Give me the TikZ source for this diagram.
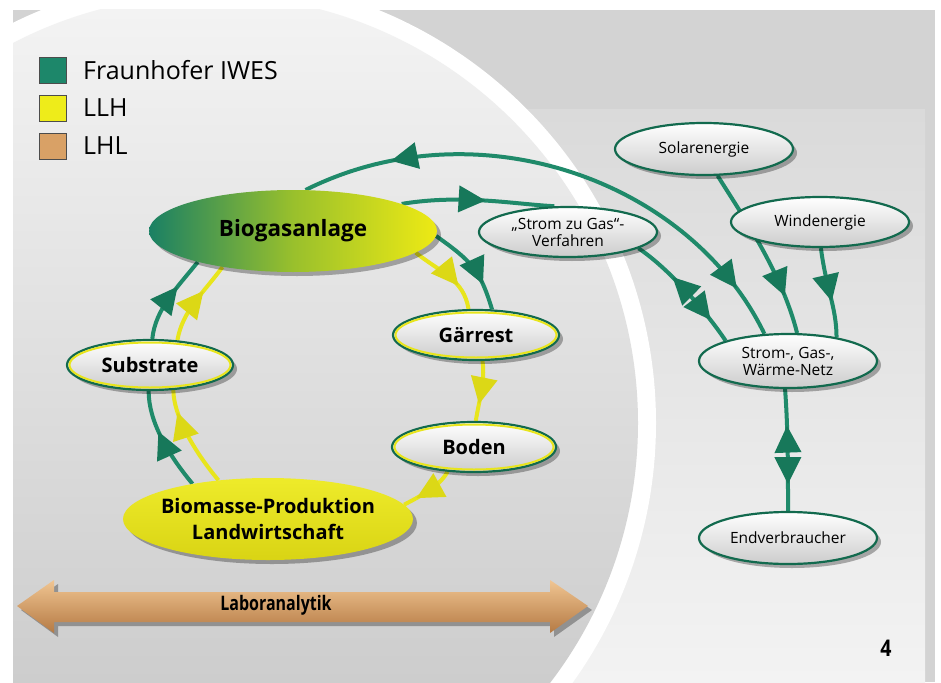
\documentclass[tikz,border=0pt]{standalone}
\usepackage{fontspec}
\setmainfont{Open Sans}
\usetikzlibrary{arrows.meta,decorations.markings,shadows,shapes.geometric}
\definecolor{gline}{HTML}{1F8A6A}
\definecolor{gdark}{HTML}{126A4E}
\definecolor{gtip}{HTML}{17785A}
\definecolor{yline}{HTML}{E8E51C}
\definecolor{ytip}{HTML}{DCD816}
\definecolor{legG}{HTML}{1D876A}
\definecolor{legY}{HTML}{EEEC1A}
\definecolor{legO}{HTML}{D9A166}
\definecolor{bgLa}{HTML}{F3F3F3}
\definecolor{bgLb}{HTML}{CDCDCD}
\definecolor{bgR}{HTML}{D3D3D3}
\definecolor{bgPa}{HTML}{DADADA}
\definecolor{bgPb}{HTML}{F3F3F3}
\definecolor{orA}{HTML}{F0C592}
\definecolor{orB}{HTML}{DEA264}
\definecolor{orC}{HTML}{B57A44}
\definecolor{bioG}{HTML}{1A8064}
\definecolor{bioM}{HTML}{99C02C}
\definecolor{bioY}{HTML}{EEEA14}
\definecolor{bmA}{HTML}{EEEB2A}
\definecolor{bmB}{HTML}{D9D414}
\pgfdeclarelayer{bg}
\pgfdeclarelayer{conn}
\pgfsetlayers{bg,conn,main}
\tikzset{
  myshadow/.style={drop shadow={shadow xshift=4pt,shadow yshift=-4pt,opacity=0.3,fill=black}},
  wnode/.style={ellipse, draw=gdark, line width=2.2pt, top color=white, middle color=white, bottom color=black!20, inner sep=0pt, align=center, myshadow, font=\fontsize{15.5}{17}\selectfont},
  lnode/.style={wnode, font=\bfseries\fontsize{20}{22}\selectfont},
  yring/.style={draw=yline, line width=2pt},
  gconn/.style={draw=gline, line width=4pt},
  yconn/.style={draw=yline, line width=4pt},
  gf/.style={postaction={decorate, decoration={markings, mark=at position #1 with {\arrow{Triangle[length=27pt,width=26pt,color=gtip]}}}}},
  gb/.style={postaction={decorate, decoration={markings, mark=at position #1 with {\arrowreversed{Triangle[length=27pt,width=26pt,color=gtip]}}}}},
  yf/.style={postaction={decorate, decoration={markings, mark=at position #1 with {\arrow{Triangle[length=27pt,width=26pt,color=ytip]}}}}},
  legbox/.style={draw=black!70, line width=0.8pt, minimum width=27pt, minimum height=26pt, inner sep=0pt},
  legtext/.style={anchor=west, inner sep=0pt, font=\fontsize{25}{27}\selectfont},
}
\begin{document}
\begin{tikzpicture}[x=1pt,y=-1pt]
\useasboundingbox (0,0) rectangle (941,682);
\begin{pgfonlayer}{bg}
  \fill[white] (0,0) rectangle (941,682);
  \fill[bgR] (13,10) rectangle (935,682);
  \shade[top color=bgPa, bottom color=bgPb] (515,110) rectangle (925,682);
  \begin{scope}
    \clip (13,10) rectangle (935,682);
    \fill[white] (210,423) circle [radius=446];
    \clip (210,423) circle [radius=428];
    \shade[top color=bgLa, bottom color=bgLb] (13,10) rectangle (935,682);
  \end{scope}
\end{pgfonlayer}

% legend
\node[legbox, fill=legG] (lg1) at (52.5,70) {};
\node[legbox, fill=legY] (lg2) at (52.5,108) {};
\node[legbox, fill=legO] (lg3) at (52.5,146) {};
\node[legtext] (lt1) at (83,70) {Fraunhofer IWES};
\node[legtext] (lt2) at (83,108) {LLH};
\node[legtext] (lt3) at (83,146) {LHL};

% main nodes
\node[ellipse, minimum width=288pt, minimum height=82pt, inner sep=0pt, left color=bioG, right color=bioY, middle color=bioM, myshadow, font=\bfseries\fontsize{22.5}{24}\selectfont] (bio) at (293,231) {Biogasanlage};
\node[ellipse, minimum width=290pt, minimum height=82pt, inner sep=0pt, top color=bmA, bottom color=bmB, myshadow, align=center, font=\bfseries\fontsize{20}{26}\selectfont] (bm) at (268,519) {\makebox[0pt]{Biomasse-Produktion}\\\makebox[0pt]{Landwirtschaft}};
\node[lnode, minimum width=166pt, minimum height=50pt] (sub) at (150,365) {Substrate};
\node[lnode, minimum width=166pt, minimum height=50pt] (gar) at (476,335) {Gärrest};
\node[lnode, minimum width=164pt, minimum height=50pt] (bod) at (474,447) {Boden};
\draw[yring] (sub.center) ellipse [x radius=80.5, y radius=22.5];
\draw[yring] (gar.center) ellipse [x radius=80.5, y radius=22.5];
\draw[yring] (bod.center) ellipse [x radius=79.5, y radius=22.5];

\node[wnode, minimum width=178pt, minimum height=52pt] (sol) at (704,149) {Solarenergie};
\node[wnode, minimum width=178pt, minimum height=50pt] (wind) at (820,222) {Windenergie};
\node[wnode, minimum width=178pt, minimum height=50pt] (szg) at (568,232) {„Strom zu Gas“-\\Verfahren};
\node[wnode, minimum width=178pt, minimum height=54pt] (netz) at (788,361) {Strom-, Gas-,\\Wärme-Netz};
\node[wnode, minimum width=178pt, minimum height=52pt] (endv) at (788,538) {Endverbraucher};

% Laboranalytik double arrow
\shade[top color=orA, middle color=orB, bottom color=orC, myshadow]
  (17,606) -- (54,580) -- (54,592) -- (550,592) -- (550,580) -- (588,606)
  -- (550,633) -- (550,622) -- (54,622) -- (54,633) -- cycle;
\node[font=\bfseries\fontsize{20}{22}\selectfont] (lab) at (276,605) {\scalebox{0.8}[1]{Laboranalytik}};

\node[font=\bfseries\fontsize{23}{25}\selectfont] (pg) at (886,648) {\scalebox{0.85}[1]{4}};

% connectors
\begin{pgfonlayer}{conn}
\draw[gconn, gb=0.17, gf=0.9] (bio.73) .. controls +(170,-85) and +(-75,-155) .. (netz.131);
\draw[gconn, gf=0.55] (bio.14) .. controls +(60,-10) and +(-40,-2) .. (szg.118);
\draw[gconn, gf=0.72] (bio.-2) .. controls +(35,25) and +(-12,-40) .. (gar.58);
\draw[yconn, yf=0.68] (bio.-10) .. controls +(25,20) and +(-5,-30) .. (gar.106);
\draw[yconn, yf=0.72] (gar.-76) .. controls +(3,20) and +(3,-20) .. (bod.86);
\draw[yconn, yf=0.75] (bod.-137) .. controls +(-8,15) and +(15,-8) .. (bm.6);
\draw[yconn, yf=0.78] (bm.142) .. controls +(-25,-30) and +(0,25) .. (sub.-47);
\draw[gconn, gf=0.6] (bm.155) .. controls +(-25,-30) and +(0,30) .. (sub.-93);
\draw[gconn, gf=0.65] (sub.85) .. controls +(3,-30) and +(-20,25) .. (bio.198);
\draw[yconn, yf=0.65] (sub.42) .. controls +(5,-30) and +(-18,25) .. (bio.207);
\draw[gconn, gb=0.35, gf=0.8] (szg.-13) .. controls +(30,20) and +(-20,-30) .. (netz.162);
\draw[gconn, gf=0.78] (sol.-63) .. controls +(25,40) and +(-15,-60) .. (netz.72);
\draw[gconn, gf=0.6] (wind.-88) .. controls +(5,40) and +(0,-30) .. (netz.26);
\draw[gconn, gb=0.3, gf=0.78] (netz.-96) .. controls +(3,40) and +(0,-40) .. (endv.90);
\end{pgfonlayer}
\end{tikzpicture}
\end{document}
